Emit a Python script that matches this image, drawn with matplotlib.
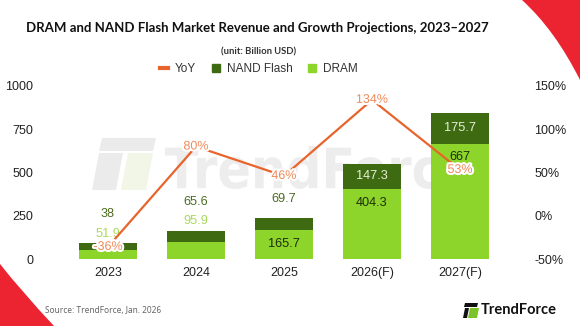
import matplotlib
matplotlib.use("Agg")
import matplotlib.pyplot as plt
import matplotlib.patheffects as pe
from matplotlib.path import Path
from matplotlib.patches import PathPatch, Polygon
from matplotlib.textpath import TextPath
from matplotlib.font_manager import FontProperties
from matplotlib.transforms import Affine2D

annees = ["2023", "2024", "2025", "2026(F)", "2027(F)"]
dram = [51.9, 95.9, 165.7, 404.3, 667]
nand = [38, 65.6, 69.7, 147.3, 175.7]
yoy = [-36, 80, 46, 134, 53]

COUL_DRAM = "#8DD42B"
COUL_NAND = "#3E6B12"
COUL_YOY = "#E8642C"
ROUGE = "#EC2330"

plt.rcParams["font.family"] = ["Liberation Sans", "DejaVu Sans"]

fig = plt.figure(figsize=(5.8, 3.26), dpi=100)
W, H = 580, 326


def px(x, y):
    """Pixel (origine en haut à gauche) -> fraction de figure."""
    return (x / W, 1 - y / H)


def forme(points, couleur, z=-4):
    fig.add_artist(Polygon([px(*p) for p in points], closed=True,
                           facecolor=couleur, edgecolor="none",
                           transform=fig.transFigure, zorder=z))


# coins rouges décoratifs
def coin(points):
    codes = [Path.MOVETO, Path.CURVE3, Path.CURVE3, Path.LINETO, Path.CLOSEPOLY]
    chemin = Path([px(*p) for p in points], codes)
    fig.add_artist(PathPatch(chemin, facecolor=ROUGE, edgecolor="none",
                             transform=fig.transFigure, zorder=-5))


coin([(522, 0), (555, 30), (580, 80), (580, 0), (522, 0)])
coin([(0, 264), (22, 292), (54, 326), (0, 326), (0, 264)])

# filigrane en arrière-plan : logo + texte étiré dans une boîte
forme([(102, 138), (156, 138), (153, 151), (99, 151)], "#EBEBEB")
forme([(99, 153), (123, 153), (116, 190), (92, 190)], "#EBEBEB")
forme([(128, 153), (153, 153), (146, 190), (121, 190)], "#F1F6E6")

tp = TextPath((0, 0), "TrendForce", size=1,
              prop=FontProperties(family="DejaVu Sans", weight="bold"))
bb = tp.get_extents()
x0, x1, y_haut, y_bas = 165, 472, 146, 189
transfo = (Affine2D().translate(-bb.x0, -bb.y0)
           .scale((x1 - x0) / bb.width, (y_bas - y_haut) / bb.height)
           .translate(x0, H - y_bas))
fig.add_artist(PathPatch(tp, facecolor="#EDEDED", edgecolor="none",
                         transform=transfo, zorder=-4))

ax = fig.add_axes([64 / W, 67 / H, 440 / W, 173 / H])
ax.set_facecolor("none")
x = range(len(annees))
largeur = 0.66

ax.bar(x, dram, largeur, color=COUL_DRAM, zorder=2)
ax.bar(x, nand, largeur, bottom=dram, color=COUL_NAND, zorder=2)

ax.set_xlim(-0.5, len(annees) - 0.5)
ax.set_ylim(0, 1000)
ax.set_yticks([0, 250, 500, 750, 1000])
ax.set_xticks(list(x))
ax.set_xticklabels(annees)
ax.tick_params(length=0, labelsize=9, colors="#222222")
ax.tick_params(axis="y", pad=22)
ax.tick_params(axis="x", pad=6)
for s in ax.spines.values():
    s.set_visible(False)

# étiquettes des barres : dedans si la barre est assez haute, sinon au-dessus
for i in x:
    total = dram[i] + nand[i]
    if dram[i] > 120:
        ax.annotate(f"{dram[i]:g}", (i, dram[i]), xytext=(0, -10),
                    textcoords="offset points", ha="center", va="center",
                    fontsize=9.2, color="#1E2E0A", zorder=4)
        decal_nand = 14
    else:
        ax.annotate(f"{dram[i]:g}", (i, total), xytext=(0, 7),
                    textcoords="offset points", ha="center", va="center",
                    fontsize=9.2, color="#A9D95C", zorder=4)
        decal_nand = 21
    if nand[i] > 100:
        ax.text(i, dram[i] + nand[i] / 2, f"{nand[i]:g}", ha="center",
                va="center", fontsize=9.2, color="#E6EFD8", zorder=4)
    else:
        ax.annotate(f"{nand[i]:g}", (i, total), xytext=(0, decal_nand),
                    textcoords="offset points", ha="center", va="center",
                    fontsize=9.2, color="#4B6B22", zorder=4)

# croissance annuelle sur l'axe de droite
ax2 = ax.twinx()
ax2.set_ylim(-50, 150)
ax2.set_yticks([-50, 0, 50, 100, 150])
ax2.set_yticklabels([f"{v}%" for v in [-50, 0, 50, 100, 150]])
ax2.tick_params(length=0, labelsize=9, colors="#222222", pad=22)
for s in ax2.spines.values():
    s.set_visible(False)
ax2.plot(list(x), yoy, color=COUL_YOY, lw=1.6, zorder=3)
for i in x:
    ax2.text(i, yoy[i], f"{yoy[i]}%", ha="center", va="center", fontsize=9,
             color="#EE8A5A", zorder=5,
             path_effects=[pe.withStroke(linewidth=3, foreground="white")])

# titre, unité et légende (centrés sur la zone du graphique)
fig.text(*px(257, 28), "DRAM and NAND Flash Market Revenue and Growth Projections, 2023–2027",
         ha="center", va="center", fontsize=9.5, fontweight="bold",
         family=["Lato", "DejaVu Sans"], color="#111111")
fig.text(*px(259, 52), "(unit: Billion USD)", ha="center", va="center",
         fontsize=6.8, fontweight="bold", family=["Lato", "DejaVu Sans"],
         color="#333333")

poignees = [
    plt.Line2D([], [], color=COUL_YOY, lw=3),
    plt.Rectangle((0, 0), 1, 1, color=COUL_NAND),
    plt.Rectangle((0, 0), 1, 1, color=COUL_DRAM),
]
fig.legend(poignees, ["YoY", "NAND Flash", "DRAM"], loc="center",
           bbox_to_anchor=px(259, 69), ncol=3, frameon=False, fontsize=8.5,
           handlelength=0.7, handleheight=0.7, handletextpad=0.6,
           columnspacing=1.3, labelcolor="#333333", borderpad=0)

# source et logo en pied de page
fig.text(*px(45, 310), "Source: TrendForce, Jan. 2026", fontsize=6,
         color="#666666", va="center", family=["Noto Sans", "DejaVu Sans"])
forme([(465, 303), (478, 303), (477, 307), (464, 307)], "#111111", 1)
forme([(465, 308), (469, 308), (467, 318), (463, 318)], "#111111", 1)
forme([(470, 308), (479, 308), (477, 318), (468, 318)], "#7CC22A", 1)
fig.text(*px(481, 310), "TrendForce", fontsize=10.5, fontweight="bold",
         color="#111111", va="center", ha="left",
         family=["Lato", "DejaVu Sans"])

fig.savefig("out.png", dpi=100)
